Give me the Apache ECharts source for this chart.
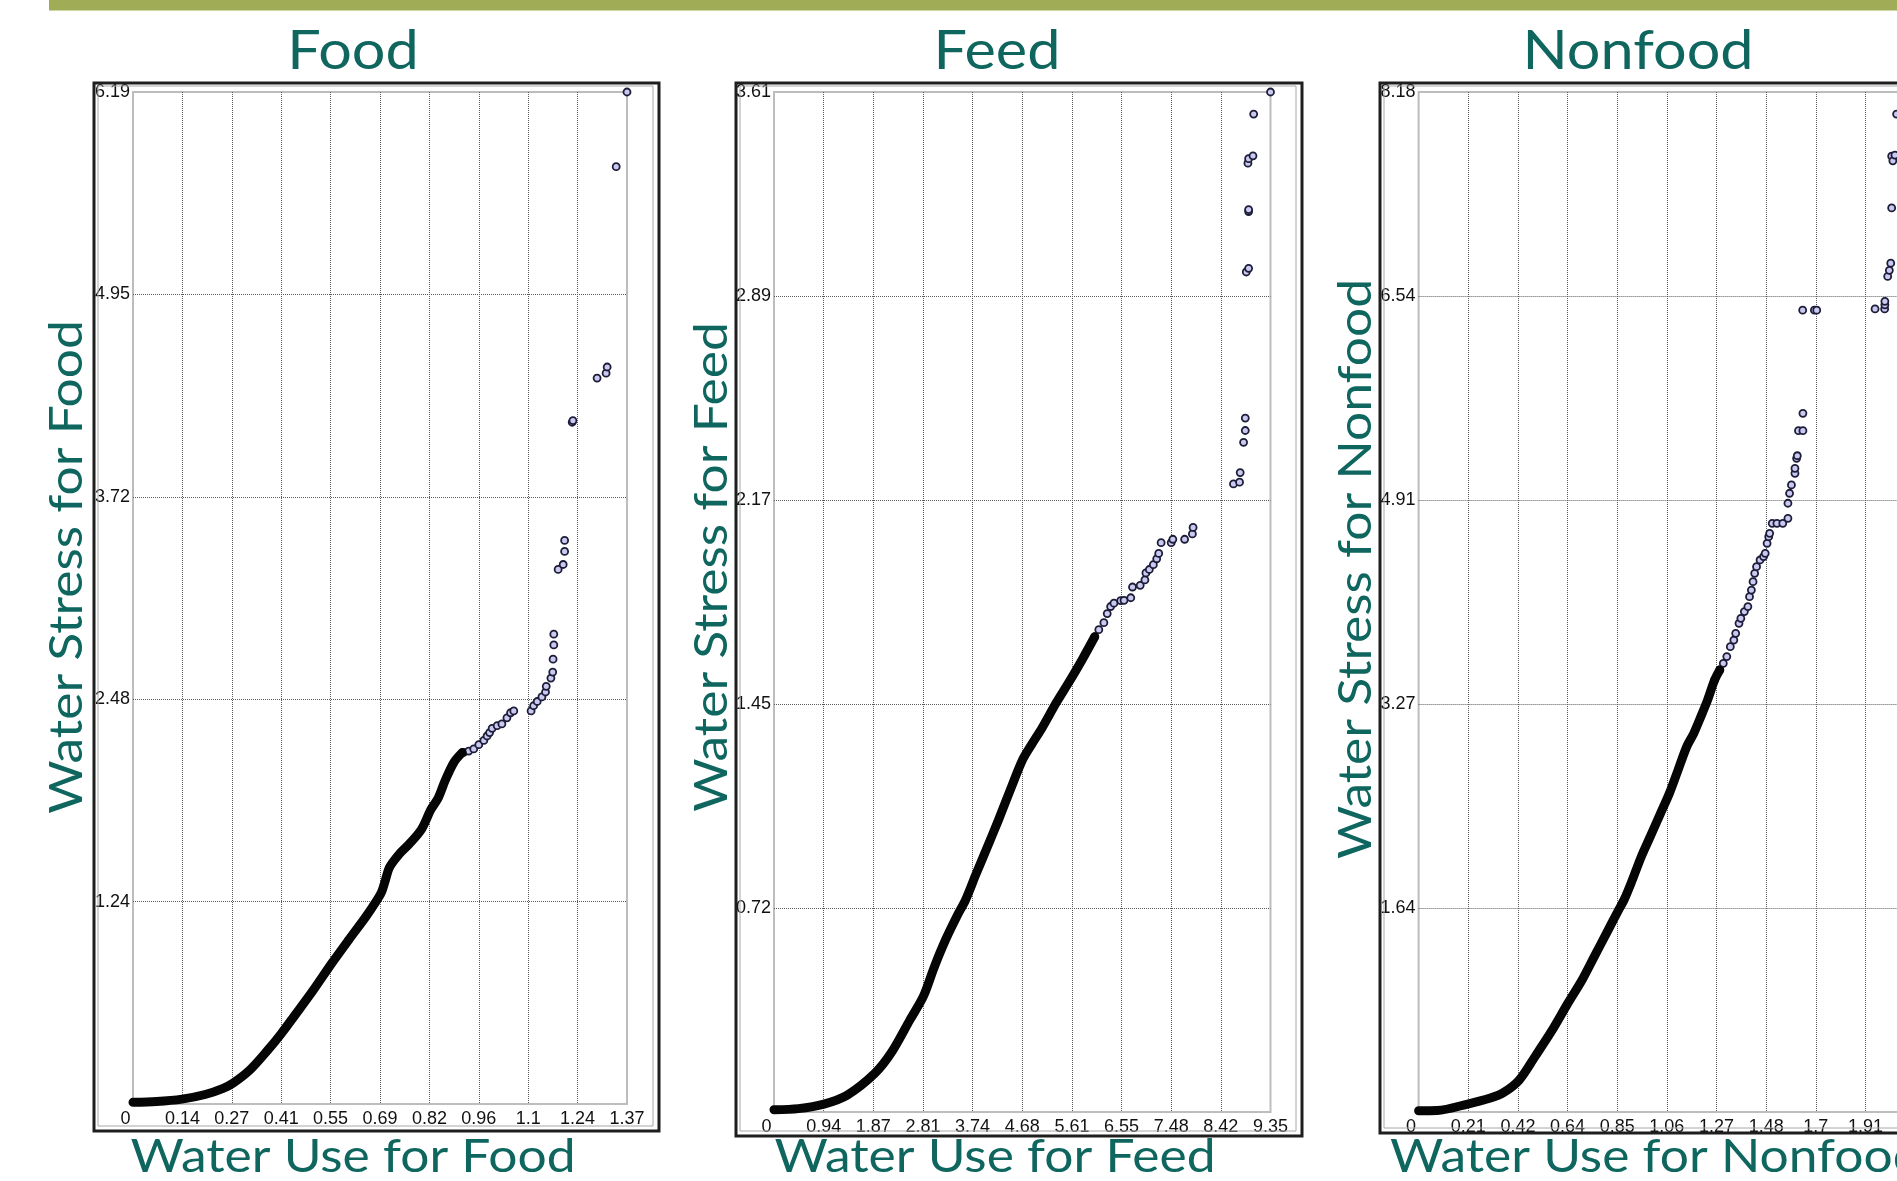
<!DOCTYPE html>
<html>
<head>
<meta charset="utf-8">
<script src="https://cdn.jsdelivr.net/npm/echarts@6/dist/echarts.min.js"></script>
<style>
html,body{margin:0;padding:0;background:#fff;overflow:hidden;}
#c{width:1960px;height:1181px;}
</style>
</head>
<body>
<div id="c"></div>
<script>
// ---- tick labels ----
const foodXTicks = ['0','0.14','0.27','0.41','0.55','0.69','0.82','0.96','1.1','1.24','1.37'];
const foodYTicks = ['0','1.24','2.48','3.72','4.95','6.19'];
const feedXTicks = ['0','0.94','1.87','2.81','3.74','4.68','5.61','6.55','7.48','8.42','9.35'];
const feedYTicks = ['0','0.72','1.45','2.17','2.89','3.61'];
const nonfoodXTicks = ['0','0.21','0.42','0.64','0.85','1.06','1.27','1.48','1.7','1.91','2.12'];
const nonfoodYTicks = ['0','1.64','3.27','4.91','6.54','8.18'];

// ---- panel titles ----
const panelTitles = ['Food','Feed','Nonfood'];
const xTitles = ['Water Use for Food','Water Use for Feed','Water Use for Nonfood'];
const yTitles = ['Water Stress for Food','Water Stress for Feed','Water Stress for Nonfood'];

// ---- data: dense part of each cloud (drawn as thick band) + sparse points ----
const foodCurve = [[0,0.01],[0.065,0.015],[0.136,0.03],[0.2,0.058],[0.25,0.096],[0.277,0.127],[0.324,0.208],[0.374,0.33],[0.411,0.43],[0.448,0.54],[0.498,0.69],[0.551,0.86],[0.597,1.0],[0.646,1.146],[0.677,1.248],[0.69,1.30],[0.70,1.37],[0.712,1.45],[0.739,1.53],[0.766,1.59],[0.80,1.68],[0.826,1.80],[0.846,1.87],[0.866,1.98],[0.89,2.09],[0.913,2.15]];
const foodPoints = [[0.917,2.151],[0.931,2.159],[0.945,2.172],[0.959,2.198],[0.973,2.224],[0.982,2.251],[0.989,2.272],[0.996,2.298],[1.010,2.314],[1.023,2.325],[1.037,2.362],[1.047,2.393],[1.056,2.404],[1.104,2.404],[1.111,2.436],[1.121,2.462],[1.134,2.49],[1.144,2.52],[1.146,2.555],[1.159,2.605],[1.164,2.642],[1.165,2.721],[1.167,2.808],[1.167,2.874],[1.179,3.27],[1.193,3.30],[1.197,3.38],[1.197,3.447],[1.218,4.17],[1.22,4.18],[1.287,4.44],[1.312,4.47],[1.315,4.508],[1.340,5.733],[1.37,6.19]];

const feedCurve = [[0,0.008],[0.46,0.012],[0.94,0.028],[1.38,0.06],[1.90,0.137],[2.22,0.213],[2.56,0.326],[2.81,0.408],[3.02,0.514],[3.23,0.609],[3.44,0.691],[3.61,0.752],[3.80,0.84],[4.0,0.93],[4.22,1.03],[4.45,1.14],[4.68,1.246],[4.85,1.30],[5.05,1.36],[5.32,1.45],[5.55,1.52],[5.80,1.60],[6.04,1.682]];
const feedPoints = [[6.04,1.682],[6.117,1.707],[6.212,1.732],[6.275,1.764],[6.339,1.789],[6.402,1.801],[6.529,1.81],[6.592,1.811],[6.719,1.82],[6.751,1.858],[6.896,1.864],[6.985,1.883],[7.004,1.908],[7.068,1.92],[7.144,1.937],[7.207,1.958],[7.245,1.977],[7.29,2.015],[7.48,2.015],[7.511,2.027],[7.733,2.027],[7.879,2.046],[7.892,2.069],[8.653,2.223],[8.767,2.229],[8.779,2.263],[8.843,2.37],[8.875,2.412],[8.875,2.456],[8.894,2.973],[8.938,2.986],[8.938,3.187],[8.938,3.194],[8.925,3.358],[8.938,3.374],[9.02,3.384],[9.033,3.532],[9.35,3.61]];

const nonfoodCurve = [[0,0.01],[0.079,0.012],[0.21,0.064],[0.303,0.11],[0.362,0.155],[0.43,0.257],[0.497,0.444],[0.571,0.658],[0.637,0.871],[0.698,1.059],[0.75,1.246],[0.802,1.433],[0.854,1.62],[0.877,1.70],[0.907,1.834],[0.951,2.048],[0.989,2.208],[1.033,2.395],[1.071,2.556],[1.108,2.743],[1.145,2.93],[1.175,3.037],[1.205,3.17],[1.234,3.304],[1.264,3.465],[1.286,3.545]];
const nonfoodPoints = [[1.264,3.465],[1.286,3.545],[1.301,3.598],[1.316,3.652],[1.331,3.732],[1.346,3.785],[1.354,3.839],[1.368,3.919],[1.376,3.959],[1.391,4.013],[1.406,4.053],[1.413,4.133],[1.421,4.186],[1.428,4.253],[1.435,4.32],[1.443,4.373],[1.458,4.427],[1.473,4.454],[1.48,4.48],[1.488,4.561],[1.495,4.614],[1.499,4.641],[1.51,4.721],[1.53,4.721],[1.555,4.721],[1.577,4.761],[1.577,4.882],[1.584,4.962],[1.592,5.029],[1.607,5.122],[1.607,5.162],[1.614,5.242],[1.617,5.263],[1.622,5.464],[1.641,5.464],[1.641,5.603],[1.64,6.43],[1.69,6.43],[1.70,6.43],[1.949,6.44],[1.99,6.44],[1.991,6.473],[1.991,6.501],[2.003,6.701],[2.01,6.75],[2.016,6.807],[2.02,7.25],[2.02,7.665],[2.025,7.628],[2.034,7.674],[2.041,8.003]];

// ---- layout ----
const TEAL = '#0e665f';
const LABEL_FONT = "'Liberation Sans Narrow','Arial Narrow','Liberation Sans',Arial,sans-serif";
const TITLE_FONT = "Lato,'Open Sans',sans-serif";
const grids = [
  {left:133, top:92, width:494, height:1012},
  {left:774, top:92, width:496.5, height:1020},
  {left:1418.6, top:92, width:496.5, height:1020}
];
const frames = [
  {x:94, y:83, w:565, h:1048},
  {x:736, y:83, w:566, h:1053},
  {x:1380, y:83, w:570, h:1050}
];
const xTickSets = [foodXTicks, feedXTicks, nonfoodXTicks];
const yTickSets = [foodYTicks, feedYTicks, nonfoodYTicks];
const curves = [foodCurve, feedCurve, nonfoodCurve];
const pointSets = [foodPoints, feedPoints, nonfoodPoints];

const chart = echarts.init(document.getElementById('c'), null, {renderer:'canvas'});

const gridOpts = grids.map(g => Object.assign({show:true, borderColor:'#bdbdbd', borderWidth:2, backgroundColor:'#fff', containLabel:false, outerBoundsMode:'none'}, g));
const splitLine = {show:true, showMinLine:false, showMaxLine:false, lineStyle:{color:'#5a5a5a', width:1, type:[1,1]}};

const xAxes = xTickSets.map((labels, i) => {
  const max = parseFloat(labels[labels.length-1]);
  const iv = max / 10;
  return {
    type:'value', gridIndex:i, min:0, max:max, interval:iv,
    axisLine:{show:false}, axisTick:{show:false}, splitLine:splitLine,
    axisLabel:{
      margin:6, color:'#111', fontSize:18, fontFamily:LABEL_FONT,
      formatter: v => { const k = Math.round(v/iv); return k===0 ? '{z|0}' : labels[k]; },
      rich:{z:{padding:[0,15,0,0], fontSize:18, fontFamily:LABEL_FONT, color:'#111'}}
    }
  };
});
const yAxes = yTickSets.map((labels, i) => {
  const max = parseFloat(labels[labels.length-1]);
  const iv = max / 5;
  return {
    type:'value', gridIndex:i, min:0, max:max, interval:iv,
    axisLine:{show:false}, axisTick:{show:false}, splitLine:splitLine,
    axisLabel:{
      margin:3, color:'#111', fontSize:18, fontFamily:LABEL_FONT, showMinLabel:false,
      formatter: v => labels[Math.round(v/iv)]
    }
  };
});

const series = [];
for (let i = 0; i < 3; i++) {
  series.push({
    type:'line', xAxisIndex:i, yAxisIndex:i, data:curves[i], showSymbol:false,
    smooth:0.3, animation:false,
    lineStyle:{color:'#050505', width:9, cap:'round', join:'round'}
  });
  series.push({
    type:'scatter', xAxisIndex:i, yAxisIndex:i, data:pointSets[i], symbol:'circle', symbolSize:7,
    animation:false,
    itemStyle:{color:'#c9c9f2', borderColor:'#1d1d38', borderWidth:1.8, opacity:1}
  });
}

const graphics = [];
// olive bar at top
graphics.push({type:'rect', shape:{x:49, y:0, width:1950, height:10.5}, style:{fill:'#a1ac56'}, z:10});
frames.forEach(f => {
  graphics.push({type:'rect', shape:{x:f.x, y:f.y, width:f.w, height:f.h}, style:{fill:null, stroke:'#1e1e1e', lineWidth:3}, z:10, silent:true});
  graphics.push({type:'rect', shape:{x:f.x+4, y:f.y+3, width:f.w-10, height:f.h-8}, style:{fill:null, stroke:'#a8a8a8', lineWidth:1}, z:10, silent:true});
});
const titleX = [353, 997, 1638];
panelTitles.forEach((t, i) => {
  graphics.push({type:'text', x:titleX[i], y:52, z:11, scaleX:1.1,
    style:{text:t, fill:TEAL, font:'400 54px ' + TITLE_FONT, textAlign:'center', textVerticalAlign:'middle'}});
});
const xTitlePos = [[353,'center'],[995,'center'],[1390,'left']];
xTitles.forEach((t, i) => {
  graphics.push({type:'text', x:xTitlePos[i][0], y:1157, z:11, scaleX:1.12,
    style:{text:t, fill:TEAL, font:'400 46px ' + TITLE_FONT, textAlign:xTitlePos[i][1], textVerticalAlign:'middle'}});
});
const yTitlePos = [[67,567],[712,567],[1356,569]];
yTitles.forEach((t, i) => {
  graphics.push({type:'text', x:yTitlePos[i][0], y:yTitlePos[i][1], rotation:Math.PI/2, z:11, scaleX:1.12,
    style:{text:t, fill:TEAL, font:'400 46px ' + TITLE_FONT, textAlign:'center', textVerticalAlign:'middle'}});
});

chart.setOption({
  animation:false,
  backgroundColor:'#ffffff',
  grid:gridOpts,
  xAxis:xAxes,
  yAxis:yAxes,
  series:series,
  graphic:{elements:graphics}
});
</script>
</body>
</html>
